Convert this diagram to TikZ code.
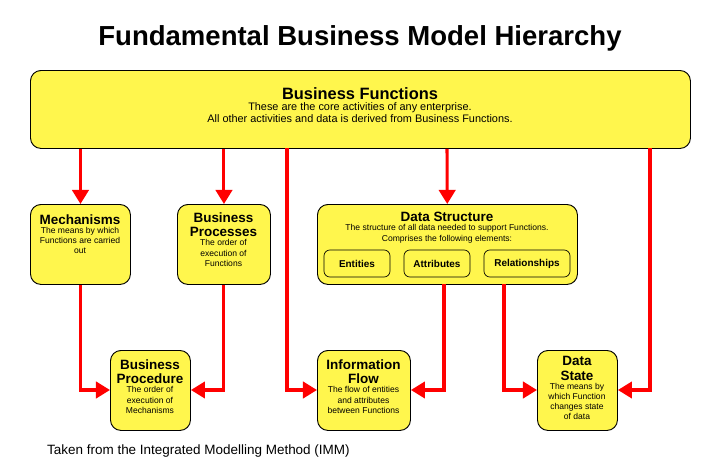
\documentclass[tikz,border=0pt]{standalone}
\usepackage{fontspec}
\setmainfont{Liberation Sans}
\usetikzlibrary{arrows.meta,positioning}
\tikzset{
  box/.style={draw=black, thick, fill=yellow!70!white, rounded corners=9pt, anchor=north west},
  inbox/.style={draw=black, semithick, rounded corners=5pt, font=\fontsize{8.5}{9}\selectfont\bfseries, inner sep=0pt},
  head/.style={font=\fontsize{11.5}{12.5}\selectfont\bfseries, align=center, anchor=north, inner sep=1pt},
  note/.style={font=\fontsize{7.3}{8.6}\selectfont, align=center, anchor=north, inner sep=1pt},
  link/.style={draw=red, line width=2.6pt, -{Triangle[length=12pt,width=14pt]}}
}
\begin{document}
\begin{tikzpicture}[x=0.03cm, y=-0.03cm]
  \useasboundingbox (0,0) rectangle (714,476);
  \node[font=\fontsize{23.5}{26}\selectfont\bfseries] (title) at (360,38) {Fundamental Business Model Hierarchy};
  % top box
  \node[box, minimum width=660*0.03cm, minimum height=78*0.03cm] (bf) at (30,70) {};
  \node[head, font=\fontsize{14}{15}\selectfont\bfseries] (bft) at (360,86) {Business Functions};
  \node[note, font=\fontsize{9.3}{10.8}\selectfont] (bfn) [below=0pt of bft] {These are the core activities of any enterprise.\\All other activities and data is derived from Business Functions.};
  % middle row
  \node[box, minimum width=100*0.03cm, minimum height=80*0.03cm] (mech) at (30,204) {};
  \node[head] (mecht) at (80,213) {Mechanisms};
  \node[note] (mechn) [below=0pt of mecht] {The means by which\\Functions are carried\\out};
  \node[box, minimum width=93*0.03cm, minimum height=80*0.03cm] (bp) at (177,204) {};
  \node[head] (bpt) at (223.5,211) {Business\\Processes};
  \node[note] (bpn) [below=0pt of bpt] {The order of\\execution of\\Functions};
  \node[box, minimum width=260*0.03cm, minimum height=80*0.03cm] (ds) at (317,204) {};
  \node[head] (dst) at (447,211) {Data Structure};
  \node[note] (dsn) [below=0pt of dst] {The structure of all data needed to support Functions.\\Comprises the following elements:};
  \node[inbox, minimum width=66*0.03cm, minimum height=27*0.03cm] (ent) at (357,263.5) {Entities};
  \node[inbox, minimum width=66*0.03cm, minimum height=27*0.03cm] (att) at (437,263.5) {Attributes};
  \node[inbox, minimum width=86*0.03cm, minimum height=27*0.03cm] (rel) at (527,263.5) {Relationships};
  % bottom row
  \node[box, minimum width=80*0.03cm, minimum height=80*0.03cm] (proc) at (110,350) {};
  \node[head] (proct) at (150,358) {Business\\Procedure};
  \node[note] (procn) [below=0pt of proct] {The order of\\execution of\\Mechanisms};
  \node[box, minimum width=93*0.03cm, minimum height=80*0.03cm] (flow) at (317,350) {};
  \node[head] (flowt) at (363.5,358) {Information\\Flow};
  \node[note] (flown) [below=0pt of flowt] {The flow of entities\\and attributes\\between Functions};
  \node[box, minimum width=80*0.03cm, minimum height=80*0.03cm] (state) at (537,350) {};
  \node[head] (statet) at (577,355) {Data\\State};
  \node[note] (staten) [below=0pt of statet] {The means by\\which Function\\changes state\\of data};
  \node[font=\fontsize{11.5}{13}\selectfont, anchor=west] (src) at (43,451) {Taken from the Integrated Modelling Method (IMM)};
  % connectors
  \draw[link] (bf.south -| mech) -- (mech);
  \draw[link] (bf.south -| bp) -- (bp);
  \draw[link] (bf.south -| dst) -- (ds);
  \draw[link] (287,148) |- (flow.west |- 0,390);
  \draw[link] (650,148) |- (state.east |- 0,390);
  \draw[link] (mech.south) |- (proc.west |- 0,390);
  \draw[link] (bp.south) |- (proc.east |- 0,390);
  \draw[link] (444,284) |- (flow.east |- 0,390);
  \draw[link] (504,284) |- (state.west |- 0,390);
\end{tikzpicture}
\end{document}
